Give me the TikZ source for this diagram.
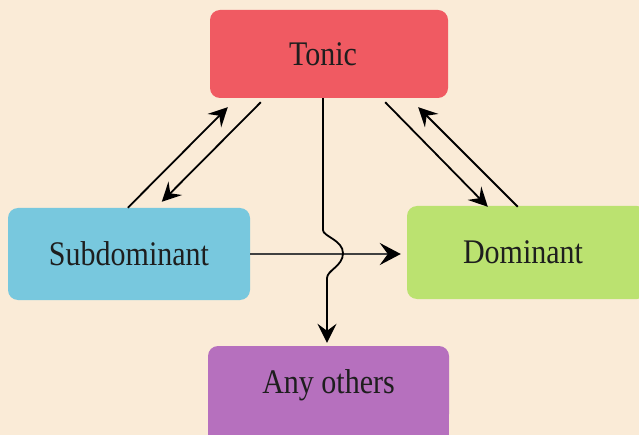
\documentclass[tikz,border=0pt]{standalone}
\usepackage{fontspec}
\setmainfont{Liberation Serif}
\usetikzlibrary{arrows.meta,calc}
\definecolor{bgc}{RGB}{250,235,215}
\definecolor{tonicc}{RGB}{240,90,98}
\definecolor{subc}{RGB}{120,200,222}
\definecolor{domc}{RGB}{187,226,112}
\definecolor{anyc}{RGB}{182,112,190}
\definecolor{txtc}{RGB}{30,30,30}
\begin{document}
\begin{tikzpicture}[x=1pt,y=-1pt,
  box/.style={rounded corners=10pt, draw=none, inner sep=0pt, text=txtc,
    font=\fontsize{30}{33}\selectfont},
  arr/.style={line width=1.8pt, -{Stealth[length=19pt,width=19pt,inset=7pt]}},
]
\fill[bgc] (0,0) rectangle (639,435);
\useasboundingbox (0,0) rectangle (639,435);
\clip (0,0) rectangle (639,435);
\fill[anyc] (208,400) rectangle (449,440);
\node[box, fill=tonicc, minimum width=238pt, minimum height=88pt] (tonic) at (329,54) {\hspace*{-12pt}\scalebox{1}[1.15]{Tonic}};
\node[box, fill=subc, minimum width=242pt, minimum height=92pt] (sub) at (129,254) {\scalebox{1}[1.15]{Subdominant}};
\node[box, fill=domc, minimum width=240pt, minimum height=93pt] (dom) at (527,252.5) {\hspace*{-8pt}\scalebox{1}[1.15]{Dominant}};
\node[box, fill=anyc, minimum width=241pt, minimum height=78pt] (any) at (328.5,385) {\scalebox{1}[1.15]{Any others}};
% Tonic <-> Subdominant
\draw[arr] ($(sub.north west)+(120,0)$) -- ($(tonic.south west)+(18,9)$);
\draw[arr] ($(tonic.south west)+(51,4)$) -- ($(sub.north west)+(154,-6)$);
% Tonic <-> Dominant
\draw[arr] ($(tonic.south east)+(-63,4)$) -- ($(dom.north west)+(81,1)$);
\draw[arr] ($(dom.north west)+(111,1)$) -- ($(tonic.south east)+(-30,9)$);
% Subdominant -> Dominant
\draw[line width=2.8pt, draw=black!75, -{Stealth[length=21pt,width=22pt,inset=8pt,color=black]}]
  (sub.east) -- ($(dom.west)+(-6,1.5)$);
% Tonic -> Any others, hopping over the horizontal line
\coordinate (vt) at ($(tonic.south)+(-6,0)$);
\coordinate (ve) at ($(any.north)+(-1.5,-3)$);
\draw[arr] (vt) -- ++(0,132) .. controls ++(0,6) and ++(0,-13) .. ++(20,23)
  .. controls ++(0,13) and ++(0,-8) .. ++(-16,25) -- (ve);
\end{tikzpicture}
\end{document}
